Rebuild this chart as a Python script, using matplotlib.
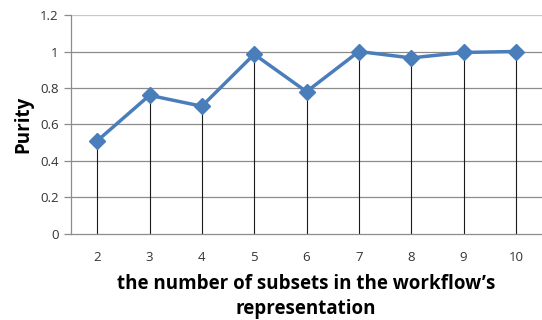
import matplotlib
matplotlib.use("Agg")
import matplotlib.pyplot as plt

subsets = [2, 3, 4, 5, 6, 7, 8, 9, 10]
purity = [0.51, 0.76, 0.70, 0.985, 0.78, 1.0, 0.965, 0.995, 1.0]
yticks = [0, 0.2, 0.4, 0.6, 0.8, 1, 1.2]

plt.rcParams['font.family'] = ['Open Sans', 'DejaVu Sans']

fig = plt.figure(figsize=(5.42, 3.2), dpi=100)
ax = fig.add_axes([0.131, 0.269, 0.869, 0.684])

pos = list(range(len(subsets)))
ax.set_xlim(-0.5, len(subsets) - 0.5)
ax.set_ylim(0, 1.2)

# horizontal grid
for t in yticks[1:]:
    ax.axhline(t, color='#8c8c8c' if t < 1.2 else '#c8c8c8', lw=0.9, zorder=1)

# drop lines from each point down to the axis
ax.vlines(pos, 0, purity, color='#1a1a1a', lw=0.8, zorder=2)

ax.plot(pos, purity, color='#4a7ebb', lw=2.5, marker='D', ms=8,
        markerfacecolor='#4a7ebb', markeredgecolor='#4a7ebb', zorder=3)

ax.set_xticks(pos)
ax.set_xticklabels([str(s) for s in subsets])
ax.set_yticks(yticks)
ax.set_yticklabels(['0', '0.2', '0.4', '0.6', '0.8', '1', '1.2'])
ax.tick_params(axis='x', length=0, pad=12, labelsize=9.5, colors='#333333')
ax.tick_params(axis='y', length=5, width=0.9, color='#8c8c8c', pad=4,
               labelsize=9.5, colors='#333333')
ax.tick_params(axis='y', labelcolor='#333333')

for side in ['top', 'right']:
    ax.spines[side].set_visible(False)
ax.spines['left'].set_color('#8c8c8c')
ax.spines['bottom'].set_color('#8c8c8c')
ax.spines['left'].set_linewidth(0.9)
ax.spines['bottom'].set_linewidth(0.9)

ax.set_ylabel('Purity', fontsize=13.5, fontweight='bold', labelpad=5)
fig.text(0.565, 0.074, "the number of subsets in the workflow\u2019s\nrepresentation",
         ha='center', va='center', fontsize=13.5, fontweight='bold',
         linespacing=1.3)

fig.savefig('out.png', dpi=100)
